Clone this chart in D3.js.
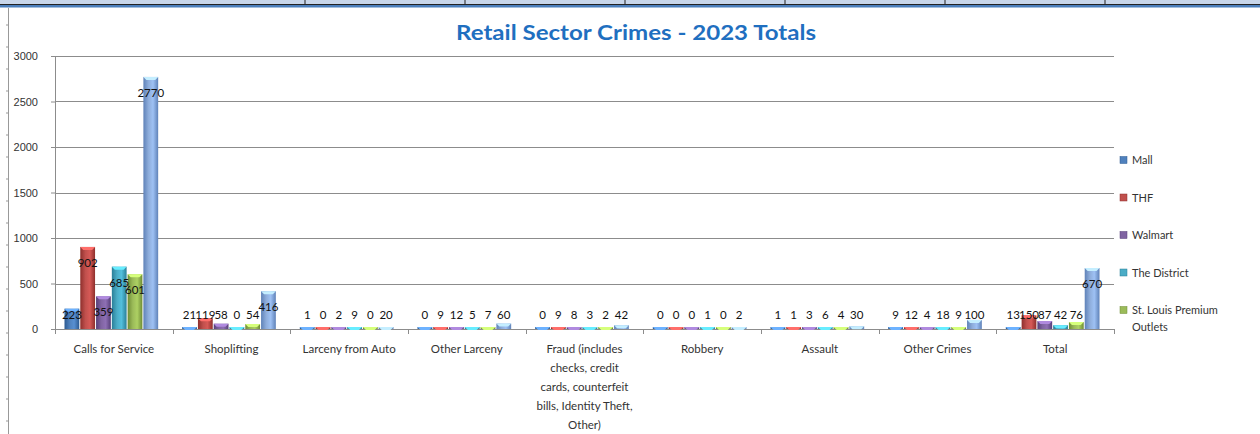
<!DOCTYPE html>
<html>
<head>
<meta charset="utf-8">
<script src="https://cdn.jsdelivr.net/npm/d3@7"></script>
<style>
  body { margin: 0; background: #fff; }
  svg { display: block; font-family: Lato, "Open Sans", sans-serif; }
</style>
</head>
<body>
<svg id="chart" width="1260" height="434"></svg>
<script>
const categories = ["Calls for Service", "Shoplifting", "Larceny from Auto", "Other Larceny",
    "Fraud (includes checks, credit cards, counterfeit bills, Identity Theft, Other)",
    "Robbery", "Assault", "Other Crimes", "Total"]
const seriesNames = ["Mall", "THF", "Walmart", "The District", "St. Louis Premium Outlets", "Total"]
const mall      = [223, 21, 1, 0, 0, 0, 1, 9, 13]
const thf       = [902, 119, 0, 9, 9, 0, 1, 12, 150]
const walmart   = [359, 58, 2, 12, 8, 0, 3, 4, 87]
const district  = [685, 0, 9, 5, 3, 1, 6, 18, 42]
const stlouis   = [601, 54, 0, 7, 2, 0, 4, 9, 76]
const totals    = [2770, 416, 20, 60, 42, 2, 30, 100, 670]
const yTicks = [0, 500, 1000, 1500, 2000, 2500, 3000]
const fraudLines = ["Fraud (includes", "checks, credit", "cards, counterfeit", "bills, Identity Theft,", "Other)"]

const colors = ["#4F81BD", "#C0504D", "#8064A2", "#4BACC6", "#9BBB59", "#8EADDB"]
const darks  = ["#2C5A91", "#8E2F2C", "#563F78", "#2A7F98", "#6E8C35", "#5F82B8"]

const seriesValues = [mall, thf, walmart, district, stlouis, totals]
const data = categories.map((c, i) => ({
    cat: c,
    values: seriesValues.map((s, j) => ({ key: seriesNames[j], idx: j, v: s[i] }))
}))

const svg = d3.select("#chart")

// spreadsheet frame bits
svg.append("rect").attr("x", 0).attr("y", 0).attr("width", 1260).attr("height", 4).attr("fill", "#c8d6ea")
svg.selectAll(".colsep").data([305, 465, 625, 785, 945, 1105]).join("line")
    .attr("x1", d => d).attr("x2", d => d).attr("y1", 0).attr("y2", 4).attr("stroke", "#222")
svg.append("line").attr("x1", 0).attr("x2", 1260).attr("y1", 4.5).attr("y2", 4.5).attr("stroke", "#222")
svg.append("rect").attr("x", 0).attr("y", 5).attr("width", 1260).attr("height", 2.5).attr("fill", "#4a7ebb")
svg.append("line").attr("x1", 8.5).attr("x2", 8.5).attr("y1", 8).attr("y2", 434).attr("stroke", "#999")
svg.selectAll(".rtick").data(d3.range(25, 434, 22)).join("line")
    .attr("x1", 6).attr("x2", 8).attr("y1", d => d).attr("y2", d => d).attr("stroke", "#999")

const margin = { left: 55, right: 146, top: 56, bottom: 105 }
const width = 1260 - margin.left - margin.right
const height = 434 - margin.top - margin.bottom

const defs = svg.append("defs")
colors.forEach((c, i) => {
    const g = defs.append("linearGradient").attr("id", "grad" + i)
        .attr("x1", "0%").attr("x2", "100%").attr("y1", "0%").attr("y2", "0%")
    g.append("stop").attr("offset", "0%").attr("stop-color", darks[i])
    g.append("stop").attr("offset", "35%").attr("stop-color", c)
    g.append("stop").attr("offset", "65%").attr("stop-color", d3.color(c).brighter(0.3))
    g.append("stop").attr("offset", "100%").attr("stop-color", darks[i])
})

const fig = svg.append("g").attr("transform", "translate(" + margin.left + "," + margin.top + ")")

const x0 = d3.scaleBand().domain(categories).range([0, width]).paddingInner(0).paddingOuter(0)
const x1 = d3.scaleBand().domain(seriesNames).range([9, x0.bandwidth() - 14]).padding(0)
const y = d3.scaleLinear().domain([0, 3000]).range([height, 0])

// gridlines
fig.append("g").selectAll("line").data(yTicks).join("line")
    .attr("x1", 0).attr("x2", width)
    .attr("y1", d => Math.round(y(d)) + 0.5).attr("y2", d => Math.round(y(d)) + 0.5)
    .attr("stroke", "#8c8c8c")

// y axis
const yAxis = d3.axisLeft(y).tickValues(yTicks).tickFormat(d3.format("d")).tickSize(4).tickPadding(13)
const ya = fig.append("g").call(yAxis)
ya.select(".domain").attr("stroke", "#8c8c8c")
ya.selectAll(".tick line").attr("stroke", "#8c8c8c")
ya.selectAll("text").attr("font-size", 11).attr("fill", "#333").attr("text-anchor", "end")

// x axis
const xa = fig.append("g").attr("transform", "translate(0," + height + ")")
xa.append("line").attr("x1", 0).attr("x2", width).attr("y1", 0.5).attr("y2", 0.5).attr("stroke", "#8c8c8c")
xa.selectAll(".xt").data(d3.range(categories.length + 1)).join("line")
    .attr("x1", d => Math.round(d * x0.step()) + 0.5).attr("x2", d => Math.round(d * x0.step()) + 0.5)
    .attr("y1", 0).attr("y2", 5).attr("stroke", "#8c8c8c")
xa.selectAll(".xl").data(categories).join("text")
    .attr("x", d => x0(d) + x0.bandwidth() / 2)
    .attr("y", 24)
    .attr("text-anchor", "middle").attr("font-size", 11.5).attr("fill", "#333")
    .each(function(d) {
        const t = d3.select(this)
        const lines = d.startsWith("Fraud") ? fraudLines : [d]
        lines.forEach((l, k) => t.append("tspan").attr("x", x0(d) + x0.bandwidth() / 2).attr("dy", k ? 19 : 0).text(l))
    })

// bars
const groups = fig.append("g").selectAll("g").data(data).join("g")
    .attr("transform", d => "translate(" + x0(d.cat) + ",0)")

groups.each(function(d) {
    const g = d3.select(this)
    d.values.forEach(b => {
        const bx = x1(b.key) + 0.5
        const bw = x1.bandwidth() - 1
        const top = Math.min(y(b.v), height - 2)
        g.append("rect").attr("x", bx).attr("y", top).attr("width", bw).attr("height", height - top)
            .attr("fill", "url(#grad" + b.idx + ")")
        g.append("path")
            .attr("d", "M" + bx + "," + top + "L" + (bx + bw) + "," + top + "L" + (bx + bw - 3) + "," + (top + 3) + "L" + (bx + 3) + "," + (top + 3) + "Z")
            .attr("fill", d3.color(colors[b.idx]).brighter(0.9))
    })
    g.selectAll(".lbl").data(d.values).join("text")
        .attr("x", b => x1(b.key) + x1.bandwidth() / 2)
        .attr("y", b => Math.min(y(b.v) + 16, height - 14) + 4)
        .attr("text-anchor", "middle").attr("font-size", 11.5).attr("fill", "#111")
        .text(b => b.v)
})

// title
svg.append("text").attr("x", 636).attr("y", 40).attr("text-anchor", "middle")
    .attr("font-size", 20).attr("font-weight", "bold").attr("fill", "#1F6FC0")
    .attr("textLength", 360).attr("lengthAdjust", "spacingAndGlyphs")
    .text("Retail Sector Crimes - 2023 Totals")

// legend (last series is cut off in the original)
const legendItems = seriesNames.slice(0, 5)
const lg = svg.append("g").attr("transform", "translate(1120,160)")
const li = lg.selectAll("g").data(legendItems).join("g")
    .attr("transform", (d, i) => "translate(0," + i * 37.5 + ")")
li.append("rect").attr("x", 0).attr("y", -3.5).attr("width", 7).attr("height", 7)
    .attr("fill", (d, i) => colors[i]).attr("stroke", (d, i) => darks[i]).attr("stroke-width", 0.5)
li.append("text").attr("x", 12).attr("y", 4).attr("font-size", 11).attr("fill", "#333")
    .each(function(d) {
        const t = d3.select(this)
        if (d === "St. Louis Premium Outlets") {
            t.append("tspan").attr("x", 12).text("St. Louis Premium")
            t.append("tspan").attr("x", 12).attr("dy", 17).text("Outlets")
        } else {
            t.text(d)
        }
    })
</script>
</body>
</html>
